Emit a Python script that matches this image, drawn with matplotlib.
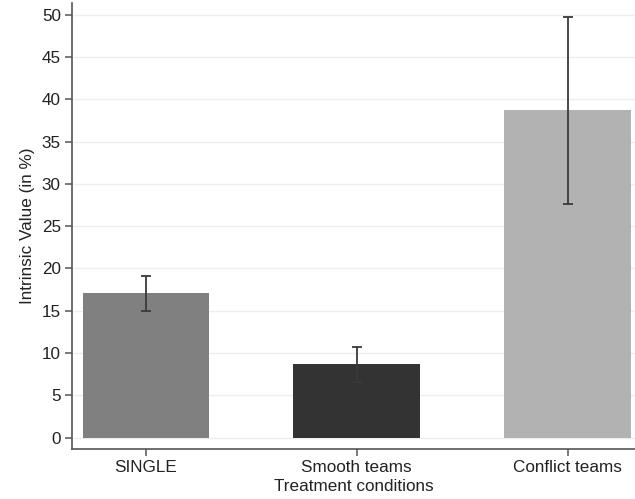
import numpy as np
import matplotlib
matplotlib.use("Agg")
import matplotlib.pyplot as plt

plt.rcParams['font.family'] = ['Liberation Sans', 'DejaVu Sans']

# values
conditions = ["SINGLE", "Smooth teams", "Conflict teams"]
means = [17.1, 8.7, 38.8]
ci_low = [15.0, 6.6, 27.6]
ci_high = [19.1, 10.7, 49.7]
bar_colors = ["#808080", "#333333", "#b2b2b2"]

x = np.arange(len(conditions))
means = np.array(means)
yerr = [means - np.array(ci_low), np.array(ci_high) - means]

fig = plt.figure(figsize=(6.35, 4.99), dpi=100)
ax = fig.add_axes([72/635, 1 - 449/499, (635 - 72)/635, (449 - 3)/499])

ax.bar(x, means, width=0.6, color=bar_colors, zorder=2)
ax.errorbar(x, means, yerr=yerr, fmt='none', ecolor='#3a3a3a',
            elinewidth=1.3, capsize=3.5, capthick=1.3, zorder=3)

ax.set_xlim(-0.35, 2.32)
ax.set_ylim(-1.35, 51.4)
ax.set_yticks(np.arange(0, 51, 5))
ax.set_xticks(x)
ax.set_xticklabels(conditions)
ax.yaxis.grid(True, color='#eeeeee', linewidth=1, zorder=0)

for side in ['top', 'right']:
    ax.spines[side].set_visible(False)
for side in ['left', 'bottom']:
    ax.spines[side].set_color('#555555')
    ax.spines[side].set_linewidth(1.2)

ax.tick_params(axis='both', colors='#555555', labelcolor='#222222',
               labelsize=12.3, length=5, width=1.1, pad=3)
ax.set_ylabel("Intrinsic Value (in %)", fontsize=12.3, color='#222222', labelpad=5)
ax.set_xlabel("Treatment conditions", fontsize=12.3, color='#222222', labelpad=2.5)

fig.savefig("out.png", dpi=100)
